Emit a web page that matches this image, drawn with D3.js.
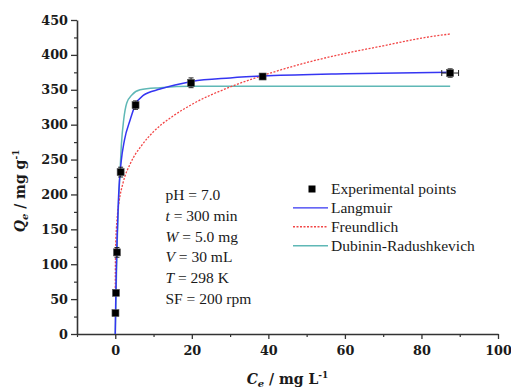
<!DOCTYPE html>
<html>
<head>
<meta charset="utf-8">
<script src="https://cdn.jsdelivr.net/npm/d3@7"></script>
<style>
  body { margin: 0; background: #fff; }
  text { fill: #1a1a1a; }
  .tick text { font-family: "DejaVu Serif", serif; font-weight: bold; font-size: 12.8px; }
  .lab { font-family: "DejaVu Serif", serif; font-weight: bold; font-size: 14px; }
  .note, .leg { font-family: "Liberation Serif", serif; font-size: 15.5px; }
</style>
</head>
<body>
<div id="chart"></div>
<script>
// experimental points
var ceExp = [0.05, 0.18, 0.44, 1.4, 5.3, 19.8, 38.5, 87.5];
var qeExp = [30, 59, 117, 232, 328, 360, 369, 374];
var qeErr = [2, 3, 7, 7, 6, 7, 4, 6];
var ceErr = [0, 0, 0.3, 0.3, 0.4, 0.5, 0.8, 2.2];

// fitted curves, points
var ceLang = [0, 0.1, 0.25, 0.5, 0.87, 1.5, 2.4, 3.9, 5.2, 7.3, 11.7, 20, 30, 40, 60, 87.5];
var qeLang = [0, 40, 88, 142, 198, 245, 278, 307, 328, 342, 351, 362, 367, 370, 373, 375];

var ceFreu = [0.003, 0.01, 0.05, 0.1, 0.3, 0.6, 1, 2, 4, 7, 10, 15, 20, 30, 40, 50, 60, 70, 80, 87.5];
var qeFreu = [66, 82, 110, 125, 152, 173, 190, 216, 245, 271, 290, 312, 329, 354, 373, 389, 402, 413, 424, 430];

var ceDR = [0, 0.25, 0.5, 0.9, 1.2, 1.6, 2.2, 3.0, 4.4, 6.5, 11.7, 20, 40, 87.5];
var qeDR = [0, 70, 130, 195, 228, 272, 307, 331, 343, 350, 353, 355, 355, 355];

var xTicks = [0, 20, 40, 60, 80, 100];
var yTicks = [0, 50, 100, 150, 200, 250, 300, 350, 400, 450];

var notes = [
    [["pH = 7.0", false]],
    [["t", true], [" = 300 min", false]],
    [["W", true], [" = 5.0 mg", false]],
    [["V", true], [" = 30 mL", false]],
    [["T", true], [" = 298 K", false]],
    [["SF = 200 rpm", false]]
];
var legendNames = ["Experimental points", "Langmuir", "Freundlich", "Dubinin-Radushkevich"];

var W = 511, H = 389;
var margin = { top: 20, right: 13, bottom: 55, left: 77 },
    width = W - margin.left - margin.right,
    height = H - margin.top - margin.bottom;

var svg = d3.select("#chart").append("svg")
    .attr("width", W).attr("height", H)
    .append("g")
    .attr("transform", "translate(" + margin.left + "," + margin.top + ")");

var x = d3.scaleLinear().domain([-10, 100]).range([0, width]);
var y = d3.scaleLinear().domain([0, 450]).range([height, 0]);

var axisColor = "#333";

// minor ticks first
svg.append("g")
    .attr("transform", "translate(0," + height + ")")
    .call(d3.axisBottom(x).tickValues(d3.range(-10, 101, 20)).tickSize(3).tickFormat(""))
    .call(g => g.select(".domain").remove())
    .selectAll("line").attr("stroke", axisColor).attr("stroke-width", 1.2);
svg.append("g")
    .call(d3.axisLeft(y).tickValues(d3.range(25, 450, 50)).tickSize(3).tickFormat(""))
    .call(g => g.select(".domain").remove())
    .selectAll("line").attr("stroke", axisColor).attr("stroke-width", 1.2);

var xAxis = svg.append("g")
    .attr("transform", "translate(0," + height + ")")
    .call(d3.axisBottom(x).tickValues(xTicks).tickSize(5).tickSizeOuter(0).tickPadding(7));
var yAxis = svg.append("g")
    .call(d3.axisLeft(y).tickValues(yTicks).tickSize(6).tickSizeOuter(0).tickPadding(3));
[xAxis, yAxis].forEach(function (a) {
    a.select(".domain").attr("stroke", axisColor).attr("stroke-width", 1.6);
    a.selectAll(".tick line").attr("stroke", axisColor).attr("stroke-width", 1.3);
    a.selectAll(".tick text").attr("fill", "#1a1a1a");
});

// axis titles
var xl = svg.append("text").attr("class", "lab")
    .attr("x", x(45)).attr("y", height + 50).attr("text-anchor", "middle");
xl.append("tspan").attr("font-style", "italic").text("C");
xl.append("tspan").attr("font-style", "italic").attr("font-size", "10px").attr("dy", 3).text("e");
xl.append("tspan").attr("dy", -3).text(" / mg L");
xl.append("tspan").attr("font-size", "9px").attr("dy", -6).text("-1");

var yl = svg.append("text").attr("class", "lab")
    .attr("transform", "translate(" + (-52) + "," + y(205) + ") rotate(-90)")
    .attr("text-anchor", "middle");
yl.append("tspan").attr("font-style", "italic").text("Q");
yl.append("tspan").attr("font-style", "italic").attr("font-size", "10px").attr("dy", 3).text("e");
yl.append("tspan").attr("dy", -3).text(" / mg g");
yl.append("tspan").attr("font-size", "9px").attr("dy", -6).text("-1");

// curves
function curve(xs, ys, color, dash, sw) {
    var pts = xs.map((c, i) => [c, ys[i]]);
    svg.append("path")
        .datum(pts)
        .attr("fill", "none")
        .attr("stroke", color)
        .attr("stroke-width", sw)
        .attr("stroke-dasharray", dash)
        .attr("d", d3.line().x(d => x(d[0])).y(d => y(d[1])).curve(d3.curveMonotoneX));
}
var cLang = "#3535f2", cFreu = "#f24646", cDR = "#5fb8b6";
curve(ceDR, qeDR, cDR, null, 1.5);
curve(ceFreu, qeFreu, cFreu, "2,1.5", 1.3);
curve(ceLang, qeLang, cLang, null, 1.5);

// error bars and points
var pts = ceExp.map((c, i) => ({ c: c, q: qeExp[i], eq: qeErr[i], ec: ceErr[i] }));
var eb = svg.append("g").attr("stroke", "#222").attr("stroke-width", 1);
pts.forEach(function (d) {
    eb.append("line").attr("x1", x(d.c)).attr("x2", x(d.c))
        .attr("y1", y(d.q - d.eq)).attr("y2", y(d.q + d.eq));
    [d.q - d.eq, d.q + d.eq].forEach(v => eb.append("line")
        .attr("x1", x(d.c) - 2.5).attr("x2", x(d.c) + 2.5).attr("y1", y(v)).attr("y2", y(v)));
    if (d.ec > 1) {
        eb.append("line").attr("x1", x(d.c - d.ec)).attr("x2", x(d.c + d.ec))
            .attr("y1", y(d.q)).attr("y2", y(d.q));
        [d.c - d.ec, d.c + d.ec].forEach(v => eb.append("line")
            .attr("x1", x(v)).attr("x2", x(v)).attr("y1", y(d.q) - 3).attr("y2", y(d.q) + 3));
    }
});
svg.selectAll(".pt").data(pts).enter().append("rect")
    .attr("class", "pt")
    .attr("x", d => x(d.c) - 3.5).attr("y", d => y(d.q) - 3.5)
    .attr("width", 7).attr("height", 7)
    .attr("fill", "#000").attr("stroke", "#555").attr("stroke-width", 0.6);

// conditions text
var nt = svg.append("g");
notes.forEach(function (row, i) {
    var t = nt.append("text").attr("class", "note")
        .attr("x", 165.5 - margin.left).attr("y", 200 - margin.top + i * 20.8);
    row.forEach(p => t.append("tspan").attr("font-style", p[1] ? "italic" : null).text(p[0]));
});

// legend
var lg = svg.append("g").attr("transform", "translate(" + (293 - margin.left) + "," + (189 - margin.top) + ")");
legendNames.forEach(function (n, i) {
    var yy = i * 18.9;
    if (i === 0) {
        lg.append("rect").attr("x", 15.5).attr("y", yy - 3.5).attr("width", 7).attr("height", 7).attr("fill", "#000");
    } else {
        var col = [null, cLang, cFreu, cDR][i];
        lg.append("line").attr("x1", 0).attr("x2", 35).attr("y1", yy).attr("y2", yy)
            .attr("stroke", col).attr("stroke-width", 1.4)
            .attr("stroke-dasharray", i === 2 ? "2,1.5" : null);
    }
    lg.append("text").attr("class", "leg").attr("x", 38).attr("y", yy).attr("dy", "0.33em").text(n);
});
</script>
</body>
</html>
